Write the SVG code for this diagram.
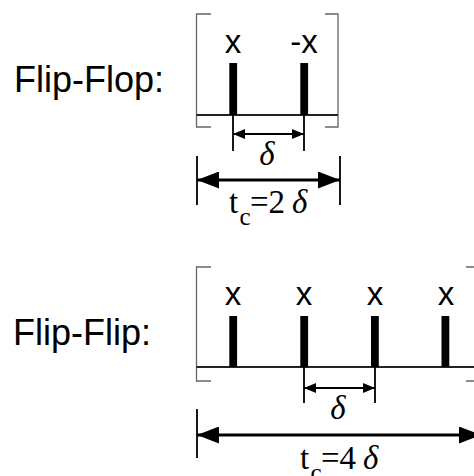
<svg xmlns="http://www.w3.org/2000/svg" width="474" height="476" viewBox="0 0 474 476">
<style>
.lbl{font-family:"Liberation Sans",Arial,sans-serif;font-size:36px;fill:#000}
.mk{font-family:"Liberation Sans",Arial,sans-serif;font-size:33px;fill:#000}
.ser{font-family:"Liberation Serif","Times New Roman",serif;font-size:33px;fill:#000}
.it{font-style:italic}
.sub{font-size:25px}
.br{stroke:#666;stroke-width:1.3;fill:none}
.base{stroke:#222;stroke-width:1.8;fill:none}
.bar{fill:#000}
.ext{stroke:#000;stroke-width:1.8;fill:none}
.dimS{stroke:#000;stroke-width:2;fill:none;marker-start:url(#aS);marker-end:url(#aS)}
.dimB{stroke:#000;stroke-width:3;fill:none;marker-start:url(#aB);marker-end:url(#aB)}
</style>
<defs>
<marker id="aS" viewBox="0 0 12 10" refX="12" refY="5" markerWidth="12" markerHeight="10" markerUnits="userSpaceOnUse" orient="auto-start-reverse"><path d="M0,0 L12,5 L0,10 z" fill="#000"/></marker>
<marker id="aB" viewBox="0 0 22 17" refX="22" refY="8.5" markerWidth="22" markerHeight="17" markerUnits="userSpaceOnUse" orient="auto-start-reverse"><path d="M0,0 L22,8.5 L0,17 z" fill="#000"/></marker>
</defs>
<rect width="474" height="476" fill="#fff"/>

<g id="flipflop-label"><text class="lbl" x="14" y="92">Flip-Flop:</text></g>
<g id="flipflop-frame">
<path class="br" d="M211,14 H196.5 V127 H211 M325,14 H338 V127 H325"/>
<path class="base" d="M196.5,115 H338"/>
</g>
<g id="flipflop-pulse1"><rect class="bar" x="229.3" y="63" width="7.8" height="52"/><text class="mk" x="233" y="53" text-anchor="middle">x</text></g>
<g id="flipflop-pulse2"><rect class="bar" x="300.3" y="63" width="7.8" height="52"/><text class="mk" x="304" y="53" text-anchor="middle">-x</text></g>

<g id="flipflip-label"><text class="lbl" x="13" y="345">Flip-Flip:</text></g>
<g id="flipflip-frame">
<path class="br" d="M211,267 H196.5 V381 H211 M466,267 H480 V381 H466"/>
<path class="base" d="M196.5,367 H480"/>
</g>
<g id="flipflip-pulse1"><rect class="bar" x="229.3" y="316" width="7.8" height="51"/><text class="mk" x="233" y="305" text-anchor="middle">x</text></g>
<g id="flipflip-pulse2"><rect class="bar" x="300.3" y="316" width="7.8" height="51"/><text class="mk" x="304" y="305" text-anchor="middle">x</text></g>
<g id="flipflip-pulse3"><rect class="bar" x="371" y="316" width="7.8" height="51"/><text class="mk" x="375" y="305" text-anchor="middle">x</text></g>
<g id="flipflip-pulse4"><rect class="bar" x="441.5" y="316" width="7.8" height="51"/><text class="mk" x="446" y="305" text-anchor="middle">x</text></g>

<g id="connectors">
<path class="ext" d="M233,115 V151 M304,115 V151"/>
<line class="dimS" x1="233" y1="134" x2="304" y2="134"/>
<path class="ext" d="M197,156 V205 M340,156 V205"/>
<line class="dimB" x1="197" y1="180" x2="340" y2="180"/>

<path class="ext" d="M304,367 V403 M375,367 V403"/>
<line class="dimS" x1="304" y1="388" x2="375" y2="388"/>
<path class="ext" d="M197,409 V458 M481,409 V458"/>
<line class="dimB" x1="197" y1="435" x2="481" y2="435"/>
</g>

<g id="dim-labels">
<text class="ser it" x="267" y="165" text-anchor="middle">δ</text>
<text class="ser"><tspan x="229" y="213">t</tspan><tspan class="sub" x="239.5" y="225">c</tspan><tspan x="250" y="213">=2</tspan><tspan class="it" x="292" y="213">δ</tspan></text>
<text class="ser it" x="338" y="419" text-anchor="middle">δ</text>
<text class="ser"><tspan x="300" y="469">t</tspan><tspan class="sub" x="310.5" y="481">c</tspan><tspan x="321" y="469">=4</tspan><tspan class="it" x="363" y="469">δ</tspan></text>
</g>
</svg>
